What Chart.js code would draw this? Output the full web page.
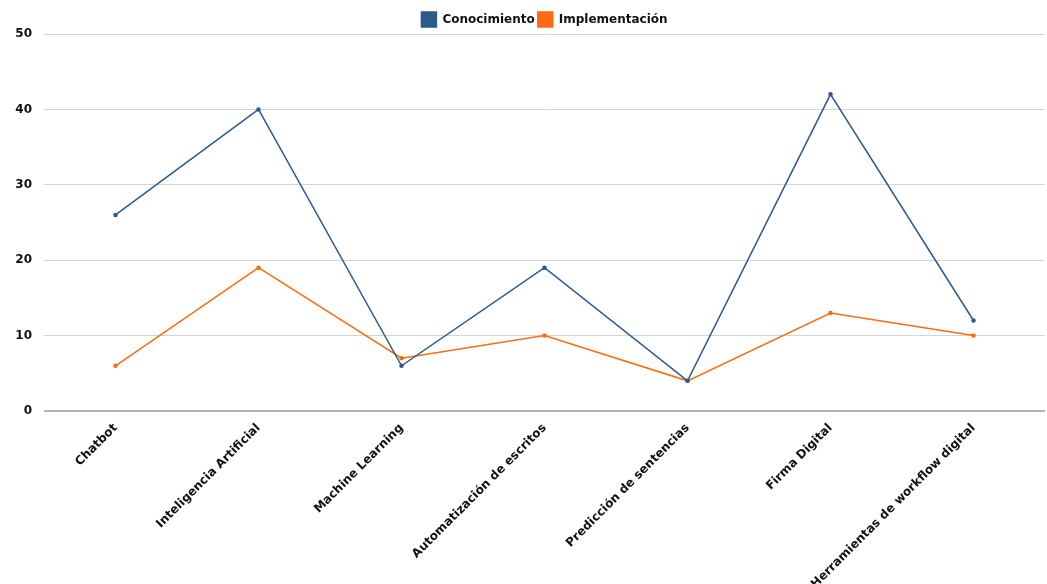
<!DOCTYPE html>
<html>
<head>
<meta charset="utf-8">
<script src="https://cdn.jsdelivr.net/npm/chart.js@4.4.0/dist/chart.umd.min.js"></script>
<style>
  html, body { margin: 0; padding: 0; background: #fff; }
  #wrap { width: 1047px; height: 584px; }
</style>
</head>
<body>
<div id="wrap"><canvas id="chart"></canvas></div>
<script>
const categories = [
  'Chatbot',
  'Inteligencia Artificial',
  'Machine Learning',
  'Automatización de escritos',
  'Predicción de sentencias',
  'Firma Digital',
  'Herramientas de workflow digital'
];
const conocimiento = [26, 40, 6, 19, 4, 42, 12];
const implementacion = [6, 19, 7, 10, 4, 13, 10];
const yTicks = [0, 10, 20, 30, 40, 50];

const blue = '#2B5A8D';
const orange = '#FF6B10';

Chart.defaults.font.family = '"DejaVu Sans", sans-serif';
Chart.defaults.font.weight = 'bold';
Chart.defaults.color = '#111';

// legend sits a bit closer to the plot than Chart.js gives by default
const tightLegend = {
  id: 'tightLegend',
  beforeLayout(chart) {
    const lg = chart.legend;
    if (lg && !lg._tight) {
      const fit = lg.fit.bind(lg);
      lg.fit = function () { fit(); this.height -= 3; };
      lg._tight = true;
    }
  }
};

const ctx = document.getElementById('chart').getContext('2d');
new Chart(ctx, {
  type: 'line',
  data: {
    labels: categories,
    datasets: [
      {
        label: 'Conocimiento',
        data: conocimiento,
        borderColor: blue,
        backgroundColor: blue,
        borderWidth: 1.5,
        pointRadius: 1.5,
        tension: 0
      },
      {
        label: 'Implementación',
        data: implementacion,
        borderColor: orange,
        backgroundColor: orange,
        borderWidth: 1.5,
        pointRadius: 1.5,
        tension: 0
      }
    ]
  },
  plugins: [tightLegend],
  options: {
    responsive: true,
    maintainAspectRatio: false,
    animation: false,
    layout: { autoPadding: false, padding: { left: 0, right: 2, top: 9, bottom: 0 } },
    plugins: {
      legend: {
        position: 'top',
        fullSize: false,
        labels: {
          boxWidth: 15,
          boxHeight: 15,
          padding: 3,
          font: { size: 12, weight: 'bold' },
          color: '#111'
        }
      },
      tooltip: { enabled: false }
    },
    scales: {
      x: {
        offset: true,
        grid: { display: false },
        border: { display: false },
        ticks: {
          maxRotation: 45,
          minRotation: 45,
          autoSkip: false,
          font: { size: 12, weight: 'bold' },
          padding: 2
        },
        afterFit(scale) {
          scale.height = 173;
          scale.paddingRight = 0;
          scale.paddingLeft = 0;
        }
      },
      y: {
        min: 0,
        max: 50,
        afterBuildTicks(scale) { scale.ticks = yTicks.map(v => ({ value: v })); },
        grid: {
          drawTicks: false,
          color: c => c.tick && c.tick.value === 0 ? '#b3b3b3' : '#d4d4d4',
          lineWidth: c => c.tick && c.tick.value === 0 ? 2 : 1
        },
        border: { display: false },
        ticks: {
          font: { size: 12, weight: 'bold' },
          padding: 12
        },
        afterFit(scale) { scale.width = 44; }
      }
    }
  }
});
</script>
</body>
</html>
